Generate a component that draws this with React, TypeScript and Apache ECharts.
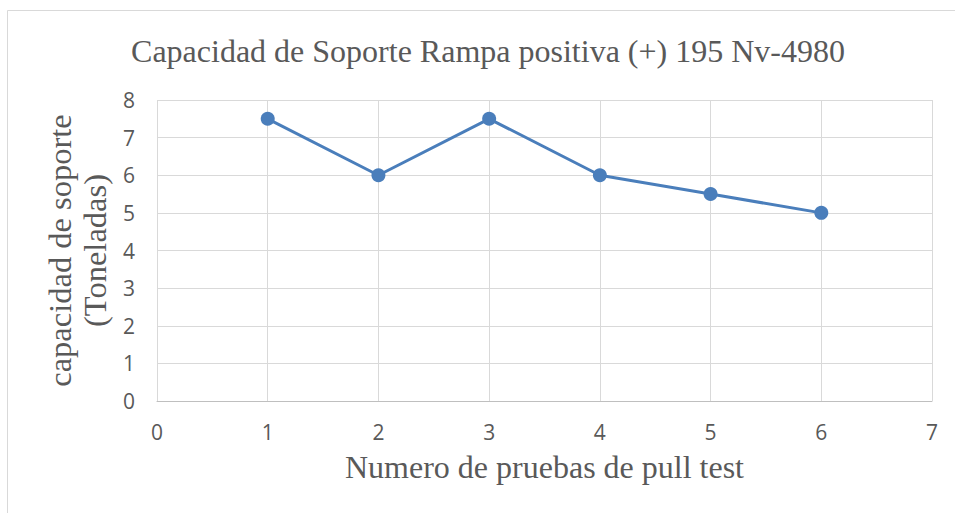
import React, { useEffect, useRef } from "react";
import * as echarts from "echarts";

const titleText = "Capacidad de Soporte Rampa positiva (+) 195 Nv-4980";
const xAxisTitle = "Numero de pruebas de pull test";
const yAxisTitle = "capacidad de soporte\n(Toneladas)";
const testNumbers = [1, 2, 3, 4, 5, 6];
const capacityValues = [7.5, 6, 7.5, 6, 5.5, 5];

export default function App() {
  const ref = useRef<HTMLDivElement>(null);
  useEffect(() => {
    if (!ref.current) return;
    const chart = echarts.init(ref.current, null, { renderer: "svg" });
    const textColor = "#595959";
    const serif = "'Liberation Serif', 'Times New Roman', serif";
    const sans = "'Open Sans', 'Liberation Sans', sans-serif";
    chart.setOption({
      animation: false,
      backgroundColor: "#ffffff",
      title: {
        text: titleText,
        left: 483,
        top: 30,
        textAlign: "center",
        textStyle: {
          fontFamily: serif,
          fontSize: 32,
          fontWeight: "normal",
          color: textColor,
        },
      },
      graphic: [
        {
          type: "rect",
          shape: { x: 7.5, y: 10.5, width: 1000, height: 1000 },
          style: { fill: "none", stroke: "#d9d9d9", lineWidth: 1 },
          silent: true,
        },
      ],
      grid: { left: 157, top: 100, right: 23, bottom: 112 },
      xAxis: {
        type: "value",
        min: 0,
        max: 7,
        interval: 1,
        name: xAxisTitle,
        nameLocation: "middle",
        nameGap: 50,
        nameTextStyle: { fontFamily: serif, fontSize: 32, color: textColor },
        axisLine: { show: true, lineStyle: { color: "#bfbfbf", width: 1 } },
        axisTick: { show: false },
        axisLabel: { margin: 20, fontFamily: sans, fontSize: 21, color: textColor },
        splitLine: { show: true, lineStyle: { color: "#d9d9d9", width: 1 } },
      },
      yAxis: {
        type: "value",
        min: 0,
        max: 8,
        interval: 1,
        name: yAxisTitle,
        nameLocation: "middle",
        nameGap: 42,
        nameTextStyle: {
          fontFamily: serif,
          fontSize: 32.5,
          color: textColor,
          lineHeight: 35,
          align: "center",
        },
        axisLine: { show: false },
        axisTick: { show: false },
        axisLabel: { margin: 22, fontFamily: sans, fontSize: 21, color: textColor },
        splitLine: { show: true, lineStyle: { color: "#d9d9d9", width: 1 } },
      },
      series: [
        {
          type: "line",
          data: testNumbers.map((x, i) => [x, capacityValues[i]]),
          symbol: "circle",
          symbolSize: 14,
          lineStyle: { color: "#4a7ebb", width: 3 },
          itemStyle: { color: "#4a7ebb" },
        },
      ],
    });
    return () => chart.dispose();
  }, []);
  return (
    <div
      ref={ref}
      style={{ position: "fixed", left: 0, top: 0, width: 955, height: 513 }}
    />
  );
}
